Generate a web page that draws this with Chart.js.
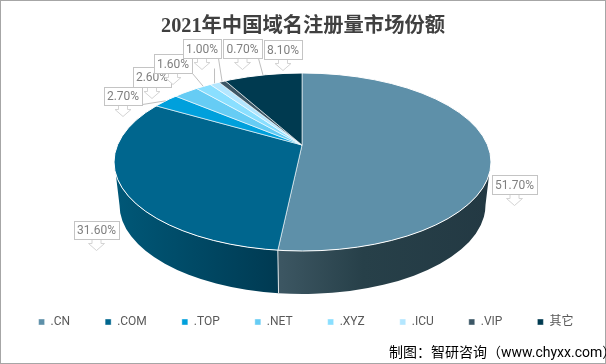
<!DOCTYPE html>
<html lang="zh">
<head>
<meta charset="utf-8">
<style>html,body{margin:0;padding:0;background:#fff}#w{position:relative;width:606px;height:364px}</style>
<script src="https://cdn.jsdelivr.net/npm/chart.js@4/dist/chart.umd.js"></script>
</head>
<body>
<div id="w"><canvas id="c" width="606" height="364"></canvas></div>
<script>
const categories = ['.CN', '.COM', '.TOP', '.NET', '.XYZ', '.ICU', '.VIP', '其它'];
const shares = [51.7, 31.6, 2.7, 2.6, 1.6, 1.0, 0.7, 8.1];
const sliceColors = ['#5e90a9', '#00668e', '#00a0dc', '#66ccf4', '#8adfff', '#b4e7ff', '#3c5766', '#003a50'];
const titleText = '2021年中国域名注册量市场份额';
const sourceText = '制图：智研咨询（www.chyxx.com）';
const FONT = 'Roboto, "Noto Sans CJK SC", sans-serif';

// label boxes: [left, top, width, height]
const labelBoxes = [[492,175,45,19],[74,221,45,18],[104,87,38,18],[133,67,38,20],[154,54,38,19],[183,39,38,19],[223,39,39,19],[264,40,38,19]];
// where a leader line leaves the label (null = none)
const leaderStarts = [null,null,[142,104],null,[192,73],[214,68],[218,58],[258,58]];

// 3D look
const face = {cx:302.5, cy:162, rx:188.5, ry:89};
const base = {cx:302.5, cy:205, rx:183, ry:89};
const hub = {x:302, y:145, sx:240, sy:112};
const wallFills = {0:[[0,'#3d5763'],[0.4,'#274049'],[1,'#233943']], 1:[[0,'#005878'],[1,'#003a52']]};

function rim(angle){
  const dx = hub.sx*Math.cos(angle), dy = hub.sy*Math.sin(angle), oy = hub.y-face.cy, ox = hub.x-face.cx;
  const a = dx*dx/(face.rx*face.rx)+dy*dy/(face.ry*face.ry);
  const b = 2*(ox*dx/(face.rx*face.rx)+oy*dy/(face.ry*face.ry));
  const c = ox*ox/(face.rx*face.rx)+oy*oy/(face.ry*face.ry)-1;
  const t = (-b+Math.sqrt(b*b-4*a*c))/(2*a);
  const x = hub.x+t*dx, y = hub.y+t*dy;
  return {x, y, theta: Math.atan2((y-face.cy)/face.ry,(x-face.cx)/face.rx)};
}
const norm = t => { while(t<0) t+=2*Math.PI; while(t>=2*Math.PI) t-=2*Math.PI; return t; };

const pie3d = {
  id:'pie3d',
  afterLayout(chart){
    chart.legend.left += 3; chart.legend.right += 3;
  },
  beforeDraw(chart){
    const c = chart.ctx; c.save();
    c.fillStyle='#fff'; c.fillRect(0,0,606,364);
    c.strokeStyle='#a6a6a6'; c.lineWidth=2; c.strokeRect(0,0,606,364);
    c.restore();
  },
  beforeDatasetsDraw(chart){
    const c = chart.ctx, arcs = chart.getDatasetMeta(0).data;
    const TMIN = 8*Math.PI/180, TMAX = Math.PI-TMIN;
    arcs.forEach((el,i)=>{
      const stops = wallFills[i]; if(!stops) return;
      let a = norm(rim(el.startAngle).theta), b = norm(rim(el.endAngle).theta);
      if(i===0) a = 0;
      const ta = Math.max(a,TMIN), tb = Math.min(b,TMAX);
      const ba = a, bb = Math.min(b,Math.PI);
      const seamX = face.cx+face.rx*Math.cos(i===0?b:a), sideX = i===0 ? face.cx+face.rx : face.cx-face.rx;
      const g = i===0 ? c.createLinearGradient(seamX,0,sideX,0) : c.createLinearGradient(sideX,0,seamX,0);
      stops.forEach(s=>g.addColorStop(s[0], s[1]));
      c.save();
      c.beginPath();
      c.ellipse(face.cx,face.cy,face.rx,face.ry,0,ta,tb,false);
      c.ellipse(base.cx,base.cy,base.rx,base.ry,0,bb,ba,true);
      c.closePath();
      c.fillStyle = g;
      c.fill();
      c.restore();
    });
    // seam between the two visible walls
    const seam = norm(rim(arcs[1].startAngle).theta);
    c.save(); c.strokeStyle='#dfe5e8'; c.lineWidth=1; c.beginPath();
    c.moveTo(face.cx+face.rx*Math.cos(seam), face.cy+face.ry*Math.sin(seam));
    c.lineTo(base.cx+base.rx*Math.cos(seam), base.cy+base.ry*Math.sin(seam));
    c.stroke(); c.restore();
    // flatten the library's own arcs on to the elliptical top face
    const el = arcs[0], R = el.outerRadius;
    c.save();
    c.beginPath(); c.ellipse(face.cx,face.cy,face.rx,face.ry,0,0,2*Math.PI); c.clip();
    c.translate(hub.x,hub.y); c.scale(hub.sx/R,hub.sy/R); c.translate(-el.x,-el.y);
  },
  afterDatasetsDraw(chart){
    const c = chart.ctx, arcs = chart.getDatasetMeta(0).data;
    c.restore();
    c.save();
    c.strokeStyle='#fff'; c.lineWidth=1;
    c.beginPath(); c.ellipse(face.cx,face.cy,face.rx,face.ry,0,0,2*Math.PI); c.stroke();
    // leader lines
    c.strokeStyle='#bfbfbf'; c.lineWidth=1;
    arcs.forEach((el,i)=>{
      const s = leaderStarts[i]; if(!s) return;
      const p = rim((el.startAngle+el.endAngle)/2);
      c.beginPath(); c.moveTo(s[0]+.5,s[1]+.5); c.lineTo(p.x,p.y); c.stroke();
    });
    // callouts
    shares.forEach((v,i)=>{
      const [x,y,w,h] = labelBoxes[i], mx = x+w/2, b = y+h;
      c.fillStyle='#fff';
      c.strokeStyle='#d4d4d4'; c.lineWidth=1;
      c.beginPath();
      c.moveTo(mx-4.5,b); c.lineTo(mx-4.5,b+4.5); c.lineTo(mx-8,b+4.5); c.lineTo(mx,b+11.5);
      c.lineTo(mx+8,b+4.5); c.lineTo(mx+4.5,b+4.5); c.lineTo(mx+4.5,b);
      c.closePath(); c.fill(); c.stroke();
      c.strokeStyle='#c4c4c4';
      c.fillRect(x+.5,y+.5,w,h); c.strokeRect(x+.5,y+.5,w,h);
      c.fillStyle='#7f7f7f'; c.font='12px '+FONT; c.textAlign='center'; c.textBaseline='middle';
      c.fillText(v.toFixed(2)+'%',mx,y+h/2+1);
    });
    c.restore();
  },
  afterDraw(chart){
    const c = chart.ctx; c.save();
    c.fillStyle='#000'; c.font='14px '+FONT; c.textAlign='left'; c.textBaseline='middle';
    c.fillText(sourceText,389,353);
    c.restore();
  }
};

new Chart(document.getElementById('c'),{
  type:'pie',
  data:{labels:categories,datasets:[{data:shares,backgroundColor:sliceColors,borderColor:'#fff',borderWidth:0.4}]},
  plugins:[pie3d],
  options:{
    responsive:false,animation:false,
    layout:{padding:{left:0,right:0,top:4,bottom:26}},
    plugins:{
      tooltip:{enabled:false},
      title:{display:true,text:titleText,color:'#404040',padding:{top:11,bottom:5},font:{family:'"Liberation Serif","Noto Sans CJK SC",serif',size:20.3,weight:'bold'}},
      legend:{display:true,position:'bottom',labels:{boxWidth:6,boxHeight:6,padding:35,color:'#595959',font:{family:FONT,size:12}}}
    }
  }
});
</script>
</body>
</html>
